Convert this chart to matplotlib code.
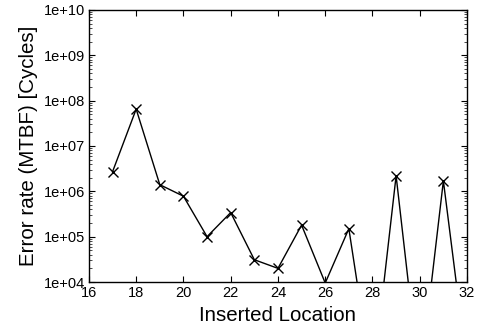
import numpy as np
import matplotlib
matplotlib.use('Agg')
import matplotlib.pyplot as plt
from matplotlib.ticker import LogLocator, FixedLocator

location = [17, 18, 19, 20, 21, 22, 23, 24, 25, 26, 27, 28, 29, 30, 31, 32]
mtbf = [2.7e6, 6.5e7, 1.4e6, 7.8e5, 1.0e5, 3.4e5, 3.1e4, 2.0e4,
        1.8e5, 9.5e3, 1.5e5, 60, 2.2e6, 60, 1.7e6, 130]

xticks = [16, 18, 20, 22, 24, 26, 28, 30, 32]
yticks = [1e4, 1e5, 1e6, 1e7, 1e8, 1e9, 1e10]
ylabels = ['1e+04', '1e+05', '1e+06', '1e+07', '1e+08', '1e+09', '1e+10']

plt.rcParams['font.family'] = ['Liberation Sans', 'DejaVu Sans']

fig = plt.figure(figsize=(4.78, 3.31), dpi=100)
ax = fig.add_axes([0.186, 0.148, 0.791, 0.822])

# markers only for points inside the y range (like matlab)
shown = [i for i, v in enumerate(mtbf) if v >= 1e4]
ax.plot(location, mtbf, 'k-', lw=1.0, marker='x', ms=7, mew=1.0,
        markevery=shown)

ax.set_yscale('log')
ax.set_xlim(16, 32)
ax.set_ylim(1e4, 1e10)
ax.xaxis.set_major_locator(FixedLocator(xticks))
ax.yaxis.set_major_locator(FixedLocator(yticks))
ax.set_yticklabels(ylabels)
ax.yaxis.set_minor_locator(LogLocator(base=10, subs=np.arange(2, 10), numticks=20))
ax.yaxis.set_minor_formatter(plt.NullFormatter())

ax.tick_params(which='both', direction='in', top=True, right=True,
               labelsize=10.5, pad=3, width=0.8)
ax.tick_params(which='major', length=4)
ax.tick_params(which='minor', length=2, width=0.5)
for s in ax.spines.values():
    s.set_linewidth(1.0)

ax.set_xlabel('Inserted Location', fontsize=14.8, labelpad=4)
ax.set_ylabel('Error rate (MTBF) [Cycles]', fontsize=14.8, labelpad=4)

fig.savefig('out.png', dpi=100)
